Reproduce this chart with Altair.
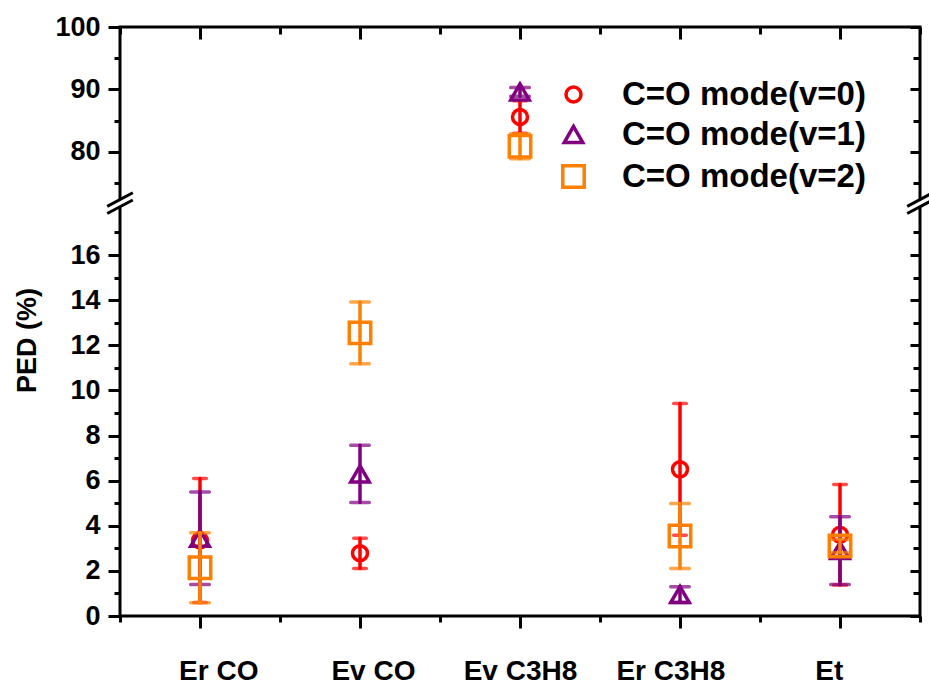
import altair as alt
import pandas as pd

# ---------------- data ----------------
categories = ["Er CO", "Ev CO", "Ev C3H8", "Er C3H8", "Et"]
series = ["C=O mode(v=0)", "C=O mode(v=1)", "C=O mode(v=2)"]
colors = ["#FF0000", "#800080", "#FF8000"]
shapes = ["circle", "triangle-up", "square"]
sizes = [225, 460, 200]
cap_sizes = [16, 22, 22]

v0_values = [3.35, 2.78, 85.6, 6.5, 3.6]
v0_errors = [2.75, 0.67, 2.6, 2.92, 2.23]
v1_values = [3.45, 6.3, 89.6, 0.95, 2.9]
v1_errors = [2.05, 1.27, 0.7, 0.35, 1.5]
v2_values = [2.14, 12.55, 80.9, 3.55, 3.1]
v2_errors = [1.55, 1.37, 2.0, 1.44, 0.3]

low_ticks = [0, 2, 4, 6, 8, 10, 12, 14, 16]
low_minor = [1, 3, 5, 7, 9, 11, 13, 15, 17]
up_ticks = [80, 90, 100]
up_minor = [75, 85, 95]
x_major = [1, 2, 3, 4, 5]
x_minor = [0.5, 1.5, 2.5, 3.5, 4.5, 5.5]
# the category names sit slightly apart from their ticks in the original
label_positions = [1.114, 2.081, 3.0, 3.94, 4.93]

# broken axis: lower segment 0..LOW_TOP, upper segment UP_BOTTOM..UP_TOP
LOW_TOP = 18.3
UP_BOTTOM = 71.8
UP_TOP = 100
RATIO = 0.2769  # upper segment compression
SPLIT = 50


def to_coord(v):
    return v if v <= SPLIT else LOW_TOP + (v - UP_BOTTOM) * RATIO


Y_MAX = to_coord(UP_TOP)
up_tick_coords = [to_coord(v) for v in up_ticks]
up_minor_coords = [to_coord(v) for v in up_minor]

rows = []
for s, vals, errs in zip(series, [v0_values, v1_values, v2_values],
                         [v0_errors, v1_errors, v2_errors]):
    for i, (v, e) in enumerate(zip(vals, errs)):
        rows.append({"cat": categories[i], "x": i + 1, "series": s, "val": v, "err": e})
df = pd.DataFrame(rows)

FONT = "Liberation Sans"
LW = 3.5


def cexpr(f):
    return f"datum.{f} <= {SPLIT} ? datum.{f} : {LOW_TOP} + (datum.{f} - {UP_BOTTOM}) * {RATIO}"


base = (
    alt.Chart(df)
    .transform_calculate(lo="datum.val - datum.err")
    .transform_calculate(hi="datum.val + datum.err")
    .transform_calculate(yc=cexpr("val"))
    .transform_calculate(ylo=cexpr("lo"))
    .transform_calculate(yhi=cexpr("hi"))
)

xscale = alt.Scale(domain=[0.5, 5.5], nice=False, zero=False)
yscale = alt.Scale(domain=[0, Y_MAX], nice=False, zero=False)

legend = alt.Legend(
    orient="none", legendX=437, legendY=51, direction="vertical", title=None,
    labelFont=FONT, labelFontSize=33, labelFontWeight="bold", labelColor="black",
    labelLimit=500, labelOffset=32, rowPadding=6, symbolStrokeWidth=LW, padding=0,
)

layers = []
for s, c, cs in zip(series, colors, cap_sizes):
    b = base.transform_filter(alt.datum.series == s)
    X = alt.X("x:Q", scale=xscale, axis=None)
    rule = b.mark_rule(color=c, strokeWidth=LW, strokeCap="round").encode(
        x=X, y=alt.Y("ylo:Q", scale=yscale, axis=None), y2="yhi:Q")
    cap_hi = b.mark_tick(color=c, orient="horizontal", size=cs, thickness=LW,
                         cornerRadius=1.7).encode(
        x=X, y=alt.Y("yhi:Q", scale=yscale, axis=None))
    cap_lo = b.mark_tick(color=c, orient="horizontal", size=cs, thickness=LW,
                         cornerRadius=1.7).encode(
        x=X, y=alt.Y("ylo:Q", scale=yscale, axis=None))
    pts = b.mark_point(filled=False, strokeWidth=LW, opacity=1).encode(
        x=X, y=alt.Y("yc:Q", scale=yscale, axis=None),
        color=alt.Color("series:N", scale=alt.Scale(domain=series, range=colors), legend=legend),
        shape=alt.Shape("series:N", scale=alt.Scale(domain=series, range=shapes), legend=legend),
        size=alt.Size("series:N", scale=alt.Scale(domain=series, range=sizes), legend=legend),
    )
    layers += [rule, cap_hi, cap_lo, pts]

pos_list = "[" + ",".join(str(p) for p in label_positions) + "]"
cat_list = "[" + ",".join(f"'{c}'" for c in categories) + "]"
cat_expr = f"{cat_list}[indexof({pos_list}, datum.value)]"
ylab_expr = (f"datum.value > {LOW_TOP} ? format({UP_BOTTOM} + (datum.value - {LOW_TOP}) / {RATIO}, '.0f')"
             f" : format(datum.value, '.0f')")

common = dict(grid=False, domain=False, tickColor="black", tickWidth=3,
              labelFont=FONT, labelColor="black", labelFontWeight="bold", labelFontSize=27)

ax_x_labels = alt.Axis(orient="bottom", values=label_positions, labelExpr=cat_expr,
                       tickSize=12, tickOpacity=0, labelPadding=29, title=None,
                       labelFontSize=28, **{k: v for k, v in common.items() if k != "labelFontSize"})
ax_x_bottom = alt.Axis(orient="bottom", values=x_major, tickSize=12, labels=False,
                       title=None, **common)
ax_y_left = alt.Axis(orient="left", values=low_ticks + up_tick_coords, labelExpr=ylab_expr,
                     tickSize=12, labelPadding=8, title="PED (%)", titleFont=FONT,
                     titleFontSize=27, titleFontWeight="bold", titleColor="black",
                     titleX=-93, titleY=313, titleAngle=270, titleAlign="center",
                     titleBaseline="middle", **common)
ax_x_bottom_minor = alt.Axis(orient="bottom", values=x_minor, tickSize=6, labels=False,
                             title=None, **common)
ax_y_left_minor = alt.Axis(orient="left", values=low_minor + up_minor_coords, tickSize=6,
                           labels=False, title=None, **common)
ax_x_top = alt.Axis(orient="top", values=x_major, tickSize=12, offset=-12, labels=False,
                    title=None, **common)
ax_y_right = alt.Axis(orient="right", values=low_ticks + up_tick_coords, tickSize=10,
                      offset=-10, labels=False, title=None, **common)
ax_x_top_minor = alt.Axis(orient="top", values=x_minor, tickSize=7, offset=-7, labels=False,
                          title=None, **common)
ax_y_right_minor = alt.Axis(orient="right", values=low_minor + up_minor_coords, tickSize=7,
                            offset=-7, labels=False, title=None, **common)

for ax_x, ax_y in [(ax_x_bottom, ax_y_left), (ax_x_bottom_minor, ax_y_left_minor),
                   (ax_x_top, ax_y_right), (ax_x_top_minor, ax_y_right_minor),
                   (ax_x_labels, None)]:
    layers.append(
        base.mark_point(opacity=0).encode(
            x=alt.X("x:Q", scale=xscale, axis=ax_x),
            y=alt.Y("yc:Q", scale=yscale, axis=ax_y),
        )
    )

# axis-break marks on the left and right frame
brk_rows = []
for side in [0.5, 5.5]:
    for k in [1, -1]:
        brk_rows.append({"bx": side - 0.08, "bx2": side + 0.08,
                         "by": LOW_TOP + k * 0.16 - 0.3, "by2": LOW_TOP + k * 0.16 + 0.3})
brk = pd.DataFrame(brk_rows)
gap = pd.DataFrame({"gx": [0.5, 5.5], "gy": [LOW_TOP - 0.17] * 2, "gy2": [LOW_TOP + 0.17] * 2})

gap_layer = alt.Chart(gap).mark_rule(color="white", strokeWidth=7).encode(
    x=alt.X("gx:Q", scale=xscale, axis=None),
    y=alt.Y("gy:Q", scale=yscale, axis=None), y2="gy2:Q")
brk_layer = alt.Chart(brk).mark_rule(color="black", strokeWidth=3).encode(
    x=alt.X("bx:Q", scale=xscale, axis=None), x2="bx2:Q",
    y=alt.Y("by:Q", scale=yscale, axis=None), y2="by2:Q")

chart = (
    alt.layer(*layers, gap_layer, brk_layer)
    .resolve_axis(x="independent", y="independent")
    .properties(width=800, height=589, autosize=alt.AutoSizeParams(type="none"),
                padding={"left": 120, "top": 27, "right": 9, "bottom": 71},
                background="white")
    .configure_view(stroke="black", strokeWidth=3)
)

chart.save("out.html", embed_options={"renderer": "svg", "actions": False})
